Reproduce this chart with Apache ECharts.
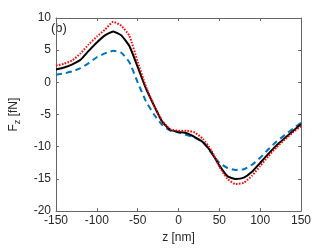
<!DOCTYPE html>
<html>
<head>
<meta charset="utf-8">
<script src="https://cdn.jsdelivr.net/npm/echarts@6/dist/echarts.min.js"></script>
<style>html,body{margin:0;padding:0;background:#fff}#c{width:332px;height:249px}</style>
</head>
<body>
<div id="c"></div>
<script>
const zValues = [-150,-140,-130,-120,-110,-100,-90,-80,-70,-60,-50,-40,-30,-20,-10,0,10,20,30,40,50,60,70,80,90,100,110,120,130,140,150];
const blackF = [2.0,2.3,2.8,3.5,4.9,6.2,7.3,7.9,7.3,5.6,2.4,-0.9,-3.6,-6.1,-7.4,-7.7,-7.9,-8.5,-9.3,-10.8,-12.9,-14.6,-15.0,-14.8,-13.9,-12.5,-11.1,-9.8,-8.7,-7.6,-6.5];
const redF = [2.6,2.9,3.4,4.5,5.9,7.1,8.2,9.4,8.8,7.2,3.2,-0.6,-3.6,-6.0,-7.3,-7.5,-7.5,-7.8,-8.8,-10.5,-13.1,-15.0,-15.8,-15.6,-14.5,-13.0,-11.5,-10.1,-8.9,-7.8,-6.8];
const blueF = [1.2,1.4,1.7,2.2,3.0,3.9,4.5,4.9,4.6,3.1,0.0,-2.9,-5.0,-6.6,-7.5,-7.8,-8.2,-8.6,-9.3,-10.9,-12.5,-13.3,-13.6,-13.5,-12.8,-11.7,-10.4,-9.2,-8.2,-7.2,-6.3];
const xTicks = [-150,-100,-50,0,50,100,150];
const yTicks = [-20,-15,-10,-5,0,5,10];
const panelLabel = '(b)';

const pair = a => zValues.map((z,i)=>[z,a[i]]);
const font = 'Liberation Sans, Arial, sans-serif';
const axisCol = '#666';
const txtCol = '#262626';
function xAx(pos, labels){
  return {type:'value', position:pos, min:-150, max:150, interval:50,
    axisLine:{show:true, onZero:false, lineStyle:{color:axisCol, width:1}},
    axisTick:{show:true, inside:true, length:3, lineStyle:{color:axisCol}},
    axisLabel:{show:labels, color:txtCol, fontSize:12, fontFamily:font, margin:4},
    splitLine:{show:false},
    name: labels ? 'z [nm]' : '', nameLocation:'middle', nameGap:19,
    nameTextStyle:{color:txtCol, fontSize:12, fontFamily:font}};
}
function yAx(pos, labels){
  return {type:'value', position:pos, min:-20, max:10, interval:5,
    axisLine:{show:true, onZero:false, lineStyle:{color:axisCol, width:1}},
    axisTick:{show:true, inside:true, length:3, lineStyle:{color:axisCol}},
    axisLabel:{show:labels, color:txtCol, fontSize:12, fontFamily:font, margin:5},
    splitLine:{show:false},
    name: labels ? '{a|F}{s|z}{a| [fN]}' : '', nameLocation:'middle', nameGap:34, nameRotate:90,
    nameTextStyle:{color:txtCol, fontSize:12, fontFamily:font,
      rich:{a:{fontSize:12, fontFamily:font, color:txtCol}, s:{fontSize:9, fontFamily:font, color:txtCol, verticalAlign:'bottom', padding:[7,0,0,0]}}}};
}
const chart = echarts.init(document.getElementById('c'), null, {renderer:'canvas'});
chart.setOption({
  animation:false,
  grid:{left:43, right:31, top:18, bottom:28, containLabel:false},
  xAxis:[xAx('bottom', true), xAx('top', false)],
  yAxis:[yAx('left', true), yAx('right', false)],
  graphic:[{type:'text', left:51, top:22, style:{text:panelLabel, fontSize:13, fontFamily:font, fill:txtCol}}],
  series:[
    {type:'line', data:pair(blueF), showSymbol:false, smooth:0.15, lineStyle:{color:'#0072BD', width:2, type:[6,4]}},
    {type:'line', data:pair(blackF), showSymbol:false, smooth:0.15, lineStyle:{color:'#000', width:2}},
    {type:'line', data:pair(redF), showSymbol:false, smooth:0.15, lineStyle:{color:'#ff0000', width:2, type:[1.5,1.5]}}
  ]
});
</script>
</body>
</html>
